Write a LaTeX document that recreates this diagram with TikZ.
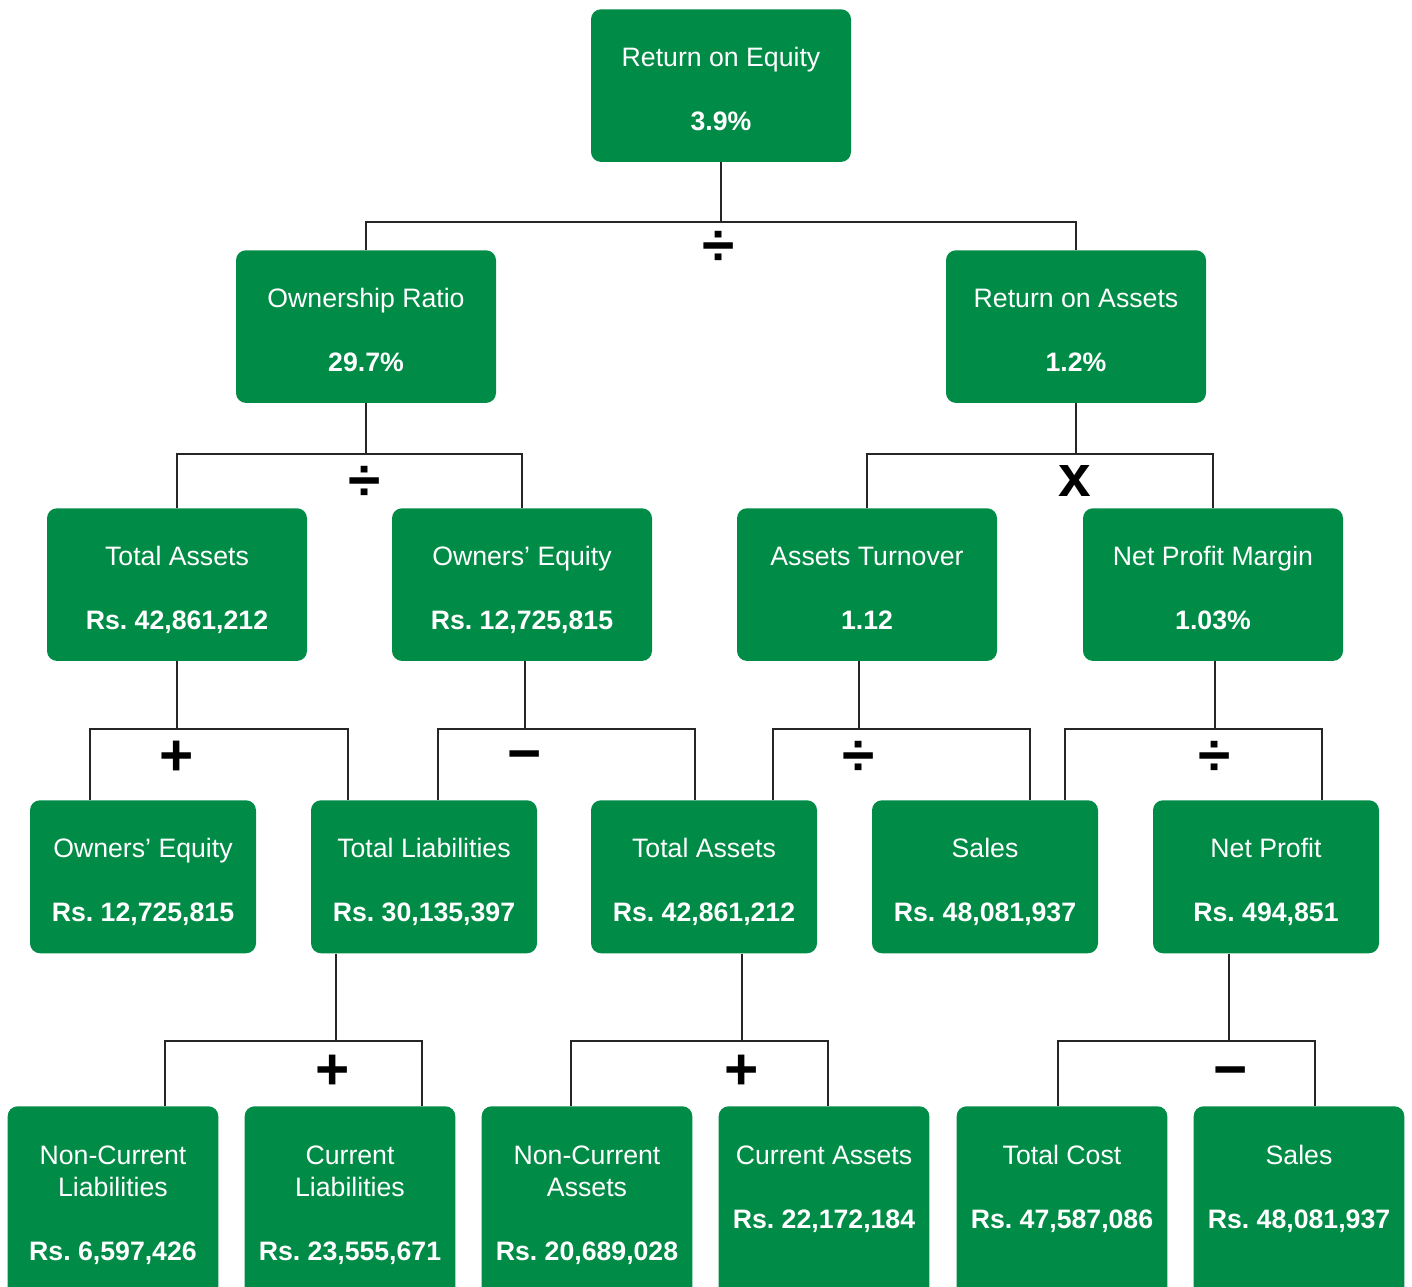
\documentclass[tikz,border=0pt]{standalone}
\usepackage{fontspec}
\setmainfont{Liberation Sans}
\frenchspacing
\definecolor{boxgreen}{RGB}{0,140,70}
\newcommand\boxtext[3][4pt]{\rule{0pt}{22.75pt}#2\\[24pt]\textbf{#3}\rule[-#1]{0pt}{#1}}

\begin{document}
\begin{tikzpicture}[x=0.75pt,y=-0.75pt,
    metric/.style={fill=boxgreen,text=white,rounded corners=7.5pt,anchor=north,
        align=center,inner sep=0pt,font=\fontsize{20}{24}\selectfont},
    wide/.style={metric,minimum width=195pt,minimum height=114.5pt},
    mid/.style={metric,minimum width=169.5pt,minimum height=114.75pt},
    leaf/.style={metric,minimum width=158pt,minimum height=150pt},
    link/.style={draw=black!85,line width=1.1pt},
    op/.style={font=\bfseries\fontsize{44}{44}\selectfont,inner sep=0pt}]
    \clip (0,0) rectangle (1412,1287);

    \node[wide] (roe) at (721,9) {\boxtext{Return on Equity}{3.9\%}};
    \node[wide] (own) at (366,250) {\boxtext{Ownership Ratio}{29.7\%}};
    \node[wide] (roa) at (1076,250) {\boxtext{Return on Assets}{1.2\%}};
    \node[wide] (ta) at (177,508) {\boxtext{Total Assets}{Rs. 42,861,212}};
    \node[wide] (oe) at (522,508) {\boxtext{Owners’ Equity}{Rs. 12,725,815}};
    \node[wide] (turn) at (867,508) {\boxtext{Assets Turnover}{1.12}};
    \node[wide] (npm) at (1213,508) {\boxtext{Net Profit Margin}{1.03\%}};
    \node[mid] (oe2) at (143,800) {\boxtext{Owners’ Equity}{Rs. 12,725,815}};
    \node[mid] (tl) at (424,800) {\boxtext{Total Liabilities}{Rs. 30,135,397}};
    \node[mid] (ta2) at (704,800) {\boxtext{Total Assets}{Rs. 42,861,212}};
    \node[mid] (sales) at (985,800) {\boxtext{Sales}{Rs. 48,081,937}};
    \node[mid] (np) at (1266,800) {\boxtext{Net Profit}{Rs. 494,851}};
    \node[leaf] (ncl) at (113,1106) {\boxtext[13.7pt]{Non-Current\\Liabilities}{Rs. 6,597,426}};
    \node[leaf] (cl) at (350,1106) {\boxtext[13.7pt]{Current\\Liabilities}{Rs. 23,555,671}};
    \node[leaf] (nca) at (587,1106) {\boxtext[13.7pt]{Non-Current\\Assets}{Rs. 20,689,028}};
    \node[leaf] (ca) at (824,1106) {\boxtext[37.7pt]{Current Assets}{Rs. 22,172,184}};
    \node[leaf] (tc) at (1062,1106) {\boxtext[37.7pt]{Total Cost}{Rs. 47,587,086}};
    \node[leaf] (sales2) at (1299,1106) {\boxtext[37.7pt]{Sales}{Rs. 48,081,937}};

    \coordinate (j1) at (721,222);
    \draw[link] (roe.south) -- (j1);
    \draw[link] (own.north) |- (j1) -| (roa.north);
    \node[op] (op1) at (719,248) {÷};

    \coordinate (j2) at (366,454);
    \draw[link] (own.south) -- (j2);
    \draw[link] (ta.north) |- (j2) -| (oe.north);
    \node[op] (op2) at (365,483) {÷};

    \coordinate (j3) at (1076,454);
    \draw[link] (roa.south) -- (j3);
    \draw[link] (turn.north) |- (j3) -| (npm.north);
    \node[op] (op3) at (1075,481) {x};

    \coordinate (j4) at (177,729);
    \draw[link] (ta.south) -- (j4);
    \draw[link] (90,0 |- oe2.north) |- (j4) -| (348,0 |- tl.north);
    \node[op] (op4) at (177,758) {+};

    \coordinate (j5) at (525,729);
    \draw[link] (j5 |- oe.south) -- (j5);
    \draw[link] (438,0 |- tl.north) |- (j5) -| (695,0 |- ta2.north);
    \node[op] (op5) at (525,762) {−};

    \coordinate (j6) at (859,729);
    \draw[link] (j6 |- turn.south) -- (j6);
    \draw[link] (773,0 |- ta2.north) |- (j6) -| (1030,0 |- sales.north);
    \node[op] (op6) at (859,758) {÷};

    \coordinate (j7) at (1215,729);
    \draw[link] (j7 |- npm.south) -- (j7);
    \draw[link] (1065,0 |- sales.north) |- (j7) -| (1322,0 |- np.north);
    \node[op] (op7) at (1215,758) {÷};

    \coordinate (j8) at (336,1041);
    \draw[link] (j8 |- tl.south) -- (j8);
    \draw[link] (165,0 |- ncl.north) |- (j8) -| (422,0 |- cl.north);
    \node[op] (op8) at (333,1072) {+};

    \coordinate (j9) at (742,1041);
    \draw[link] (j9 |- ta2.south) -- (j9);
    \draw[link] (571,0 |- nca.north) |- (j9) -| (828,0 |- ca.north);
    \node[op] (op9) at (742,1072) {+};

    \coordinate (j10) at (1229,1041);
    \draw[link] (j10 |- np.south) -- (j10);
    \draw[link] (1058,0 |- tc.north) |- (j10) -| (1315,0 |- sales2.north);
    \node[op] (op10) at (1231,1078) {−};
\end{tikzpicture}
\end{document}
